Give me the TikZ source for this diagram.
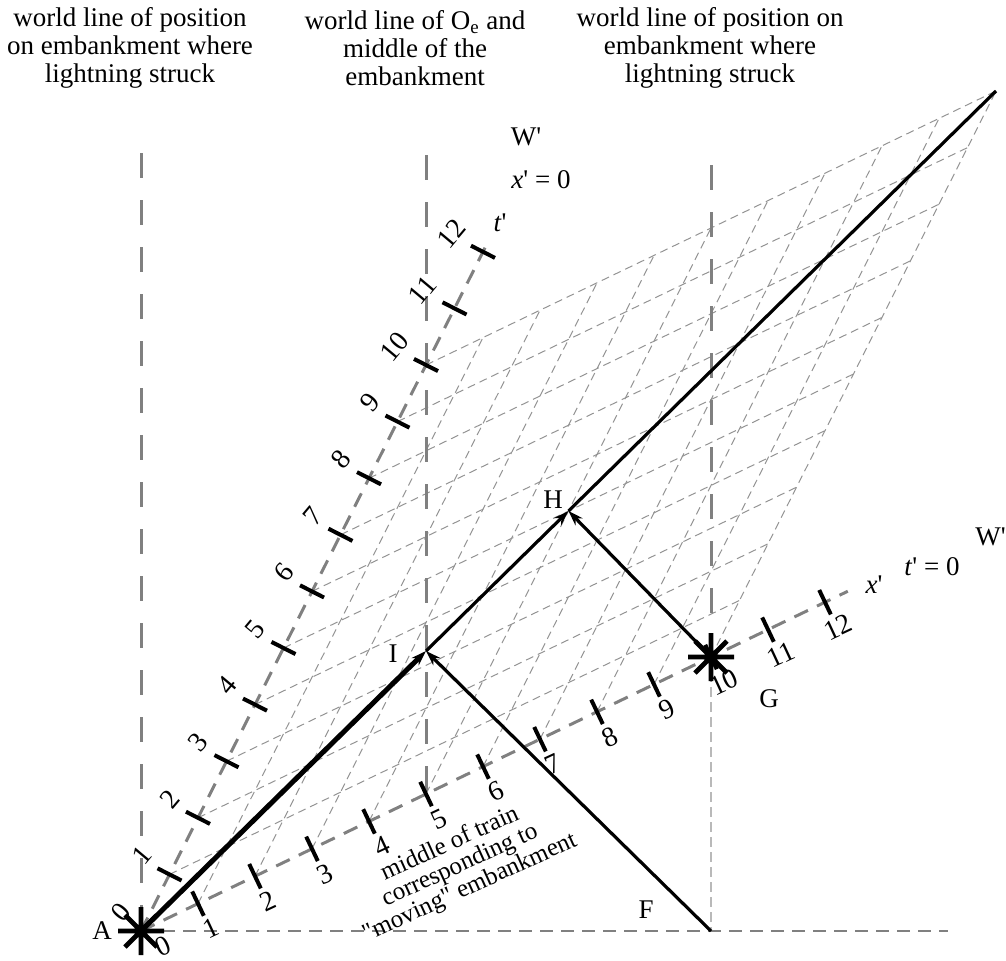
\documentclass[tikz,border=0pt]{standalone}
\usepackage{fontspec}
\setmainfont{Liberation Serif}
\usetikzlibrary{arrows.meta}
\begin{document}
\begin{tikzpicture}[x=0.5pt,y=-0.5pt,
  every node/.style={font=\fontsize{13.5}{14}\selectfont, inner sep=0pt},
  title/.style={align=center, font=\fontsize{13.5}{14}\selectfont},
  wline/.style={draw=gray, line width=1.5pt, dash pattern=on 12.5pt off 11pt},
  axisline/.style={draw=gray, line width=1.5pt, dash pattern=on 7.5pt off 5pt},
  baseline/.style={draw=gray, line width=1.3pt, dash pattern=on 6.5pt off 4pt},
  gridline/.style={draw=gray!85, line width=0.5pt, dash pattern=on 4pt off 2.5pt},
  dropline/.style={draw=gray!55, line width=0.8pt, dash pattern=on 5pt off 2.5pt},
  tickmark/.style={draw=black, line width=2pt},
  ray/.style={draw=black, line width=1.6pt},
  thickray/.style={draw=black, line width=2.5pt},
  tip/.style={-{Stealth[length=7.5pt,width=5pt]}},
  tlab/.style={rotate=50, font=\fontsize{14}{14}\selectfont},
  xlab/.style={rotate=25, font=\fontsize{14}{14}\selectfont},
  asterisk/.pic={\draw[line width=2.4pt] (-23,0)--(23,0) (0,-24)--(0,24) (-16,-16)--(16,16) (-16,16)--(16,-16);}
]
\useasboundingbox (0,0) rectangle (1006,960);

% titles
\node[title] (T1) at (130,48) {world line of position\\on embankment where\\lightning struck};
\node[title] (T2) at (415,48) {world line of O\textsubscript{e} and\\middle of the\\embankment};
\node[title] (T3) at (710,48) {world line of position on\\embankment where\\lightning struck};

\coordinate (A) at (141,931);
\begin{scope}[shift={(A)}, x={(28.5pt,13.7pt)}, y={(14.25pt,28.3pt)}]
  \coordinate (O) at (0,0);
  \coordinate (G) at (10,0);
  \coordinate (H) at (5,5);
  \coordinate (I) at (10/3,10/3);
  \coordinate (C) at (10,10);
  \coordinate (M) at (5,0);
  \coordinate (Tend) at (0,12.2);
  \coordinate (Xend) at (12.4,0);
  % grid
  \foreach \k in {1,...,10}{
    \draw[gridline] (0,\k) -- (10,\k);
    \draw[gridline] (\k,0) -- (\k,10);
  }
\end{scope}

\coordinate (F) at (G |- A);
\coordinate (B) at (948,931);

% world lines
\draw[wline] (A |- 0,153) -- (A);
\draw[wline] (M |- 0,155) -- (M);
\draw[wline] (G |- 0,165) -- (G);
\draw[dropline] (G) -- (F);
\draw[baseline] (A) -- (B);

% axes
\draw[axisline] (O) -- (Tend);
\draw[axisline] (O) -- (Xend);

\begin{scope}[shift={(A)}, x={(28.5pt,13.7pt)}, y={(14.25pt,28.3pt)}]
  \foreach \k in {1,...,12}{
    \draw[tickmark] ([shift={(-6pt,3.05pt)}]0,\k) -- ([shift={(6pt,-3.05pt)}]0,\k);
    \draw[tickmark] ([shift={(-2.9pt,6.1pt)}]\k,0) -- ([shift={(2.9pt,-6.1pt)}]\k,0);
    \node[xlab] (xl\k) at ([shift={(6.5pt,-12.5pt)}]\k,0) {\k};
  }
  \foreach \k in {1,...,9}{
    \node[tlab] (tl\k) at ([shift={(-14pt,9.5pt)}]0,\k) {\k};
  }
  \foreach \k in {10,11,12}{
    \node[tlab] (tl\k) at ([shift={(-16pt,9pt)}]0,\k) {\k};
  }
\end{scope}
\node[tlab] (tl0) at (121,912) {0};
\node[xlab] (xl0) at (163,946) {0};

% light rays
\draw[thickray, tip] (A) -- (I);
\draw[ray, tip] (I) -- (H);
\draw[ray] (H) -- (C);
\draw[ray, tip] (F) -- (I);
\draw[ray, tip] (G) -- (H);

% events
\pic at (A) {asterisk};
\pic at (G) {asterisk};

% labels
\node (lA) at (102,931) {A};
\node (lF) at (646,910) {F};
\node (lG) at (769,699) {G};
\node (lH) at (553,500) {H};
\node (lI) at (393,654) {I};
\node (W1) at (526,137) {W\textquotesingle};
\node (X0) at (541,180) {\textit{x}\textquotesingle{} = 0};
\node (TP) at (500,223) {\textit{t}\textquotesingle};
\node[anchor=west] (W2) at (975,537) {W\textquotesingle};
\node (T0) at (932,567) {\textit{t}\textquotesingle{} = 0};
\node (XP) at (874,585) {\textit{x}\textquotesingle};
\node[align=center, rotate=24.5, font=\fontsize{12.5}{12}\selectfont] (mid) at (460,866)
  {middle of train\\corresponding to\\\textquotedbl moving\textquotedbl{} embankment};
\end{tikzpicture}
\end{document}
